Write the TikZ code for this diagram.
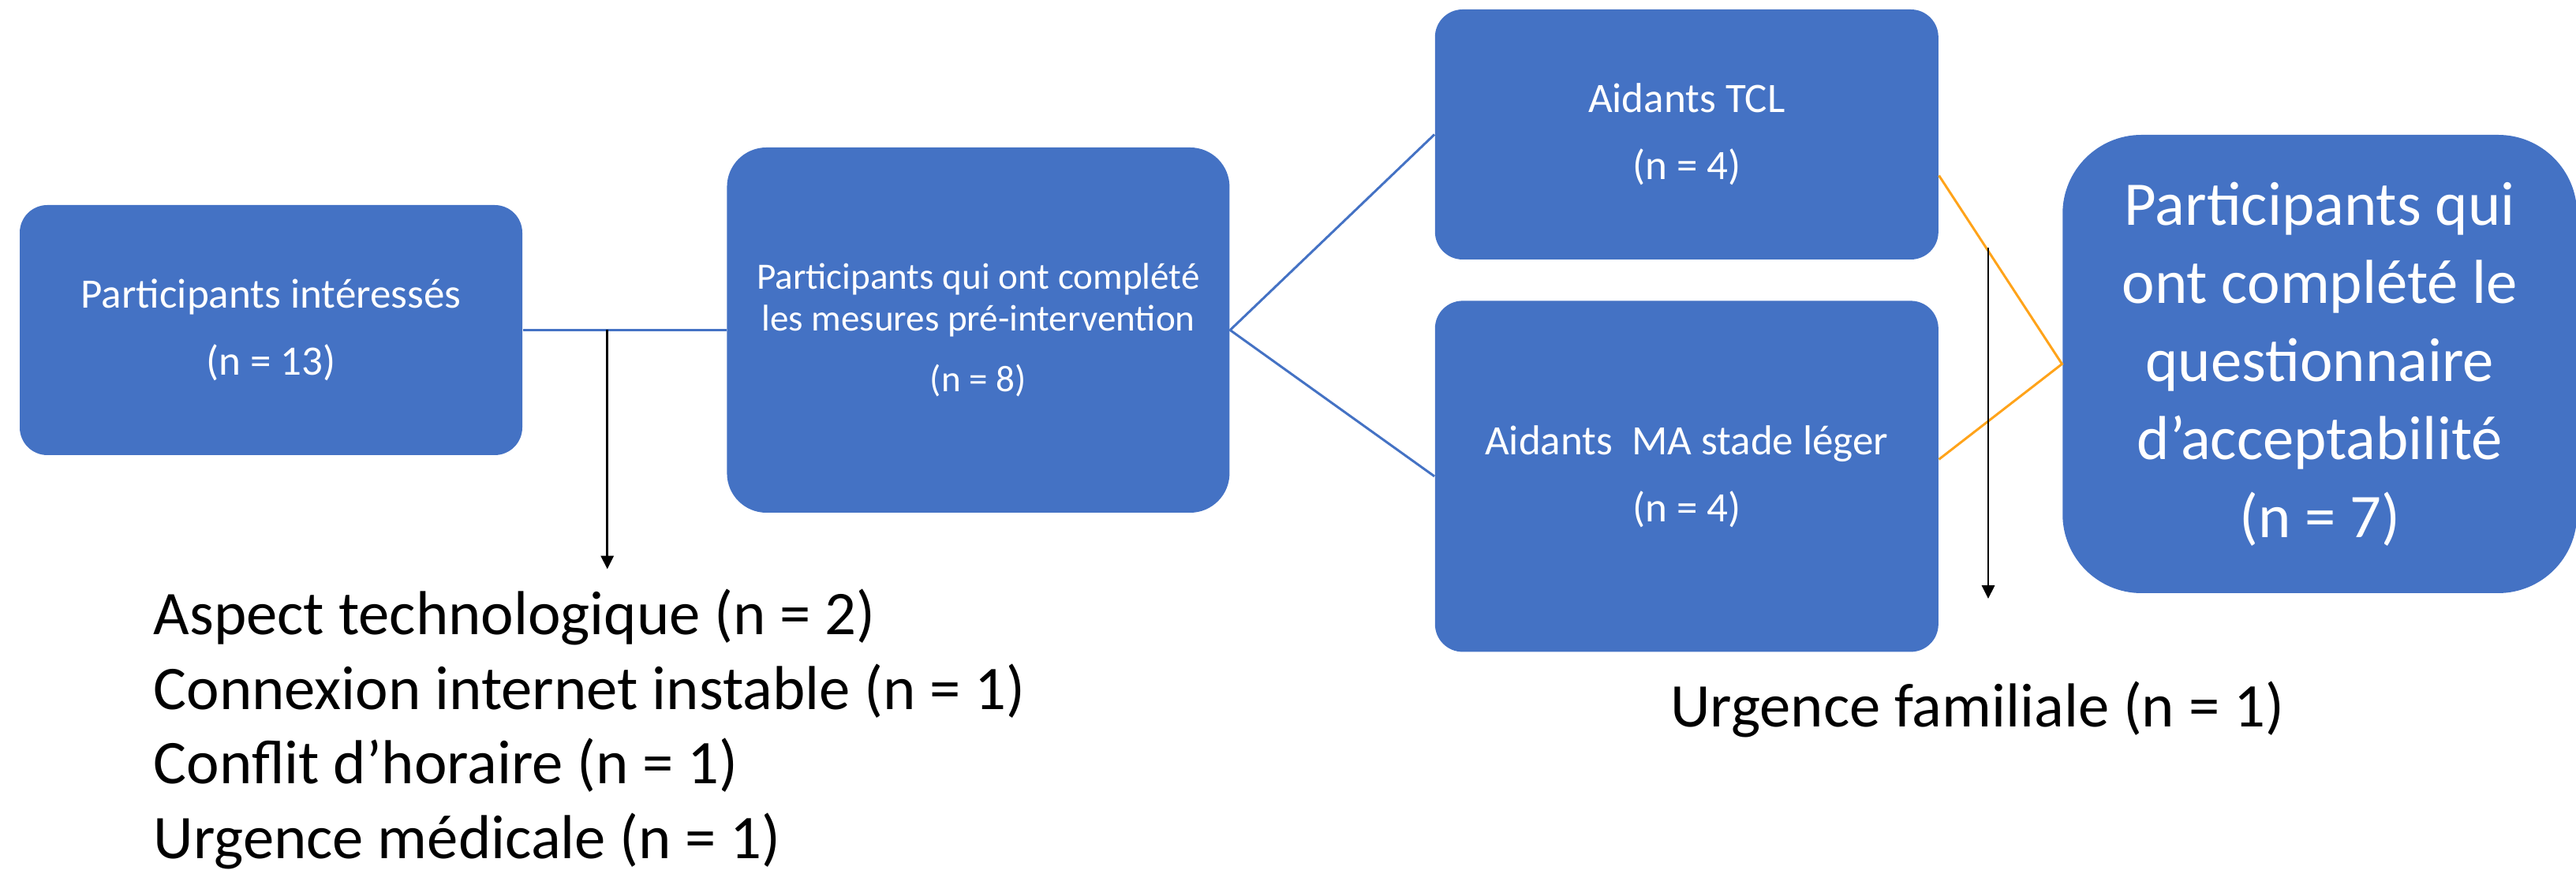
\documentclass[tikz,border=0pt]{standalone}
\usepackage{fontspec}
\setmainfont{Carlito}
\usetikzlibrary{positioning,arrows.meta}
\definecolor{boxblue}{RGB}{68,114,196}
\definecolor{lineorange}{RGB}{255,163,26}

\begin{document}
\begin{tikzpicture} [
            blubox/.style={rectangle, rounded corners=0.35cm, fill=boxblue, text=white, align=center, minimum width=6.37cm, inner sep=0pt},
            smalltxt/.style={font=\fontsize{15.1}{24.2}\selectfont},
            bigtxt/.style={font=\fontsize{22.4}{28.2}\selectfont},
            bluline/.style={draw=boxblue, line width=0.85pt},
            oraline/.style={draw=lineorange, line width=0.85pt},
            arr/.style={draw=black, line width=0.7pt, -{Triangle[length=4.8pt,width=4.6pt]}},
            reason/.style={font=\fontsize{22.4}{27}\selectfont, align=left, inner sep=0pt},]
        \useasboundingbox (0,0) rectangle (32.65,11.03);
        \node[blubox, smalltxt, minimum height=3.17cm](1) at (3.435,6.845){Participants intéressés\\(n = 13)};
        \node[blubox, minimum height=4.63cm, rounded corners=0.5cm, font=\fontsize{13.4}{15.1}\selectfont](2)[right=2.58cm of 1]{Participants qui ont complété\\les mesures pré-intervention\\[6.8pt](n = 8)};
        \node[blubox, smalltxt, minimum width=6.38cm, minimum height=3.17cm](3)[right=2.59cm of 2, yshift=2.48cm]{Aidants TCL\\(n = 4)};
        \node[blubox, smalltxt, minimum width=6.38cm, minimum height=4.45cm](4)[below=0.51cm of 3]{Aidants\ \ MA stade léger\\(n = 4)};
        \node[blubox, bigtxt, minimum width=6.52cm, minimum height=5.81cm, rounded corners=1cm](5)[right=1.56cm of 3, yshift=-2.91cm]{Participants qui\\ont complété le\\questionnaire\\d’acceptabilité\\(n = 7)};
        \node[reason, anchor=west](6) at (1.94,1.785){Aspect technologique (n = 2)\\Connexion internet instable (n = 1)\\Conflit d’horaire (n = 1)\\Urgence médicale (n = 1)};
        \node[reason](7) at (25.06,2.04){Urgence familiale (n = 1)};
        \coordinate[right=1.07cm of 1](a);
        \coordinate[below=3.03cm of a](b);
        \coordinate (c) at (25.20,7.89);
        \coordinate (d) at (25.20,3.44);
        \draw[bluline] (1.east) -- (2.west);
        \draw[arr] (a) -- (b);
        \draw[bluline] (3.west) -- (2.east) -- (4.west);
        \draw[oraline] ([yshift=-0.52cm]3.east) -- (5.west) -- ([yshift=0.215cm]4.east);
        \draw[arr] (c) -- (d);
    \end{tikzpicture}
\end{document}
